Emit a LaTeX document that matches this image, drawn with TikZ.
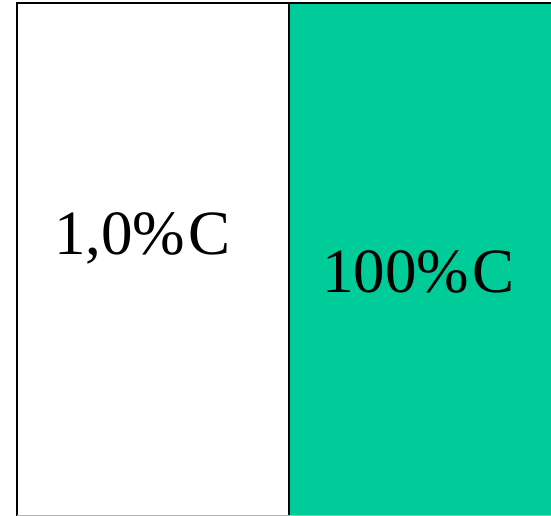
\documentclass[tikz,border=0pt]{standalone}
\usepackage{fontspec}
\setmainfont{Liberation Serif}
\definecolor{teal1}{HTML}{00CC99}
\begin{document}
\begin{tikzpicture}[x=1pt,y=1pt,
  lbl/.style={inner sep=0pt, anchor=base west, font=\fontsize{63}{70}\selectfont}]
\useasboundingbox (0,0) rectangle (551,516);
\fill[teal1] (289,0) rectangle (552,513);
\draw[line width=2pt] (17,0) -- (17,513) -- (552,513);
\draw[line width=2pt] (289,0) -- (289,513);
\draw[line width=1pt, gray!60] (17,0.3) -- (552,0.3);
\node[lbl] (a) at (54,261) {1,0\%\kern3pt C};
\node[lbl] (b) at (322,223) {100\%\kern3pt C};
\end{tikzpicture}
\end{document}
